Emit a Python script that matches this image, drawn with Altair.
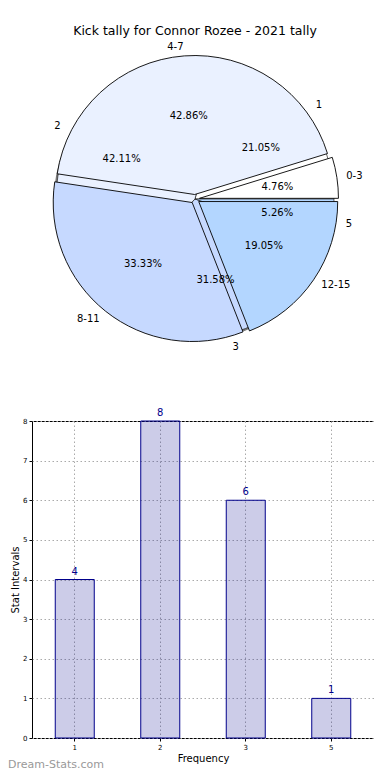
import math
import altair as alt
import pandas as pd

# ---------------- data ----------------
title_text = "Kick tally for Connor Rozee - 2021 tally"
intervals = ["0-3", "4-7", "8-11", "12-15"]
interval_counts = [1, 9, 7, 4]
freq_labels = ["1", "2", "3", "5"]
freq_counts = [4, 8, 6, 1]
pie_colors = ["#ffffff", "#eaf1ff", "#c6d9ff", "#b3d6ff"]
y_ticks = [0, 1, 2, 3, 4, 5, 6, 7, 8]
watermark = "Dream-Stats.com"

FONT = "DejaVu Sans"
BW, BH = 342, 317          # bar plot area
PCX, PCY = 163, -222       # pie centre relative to the bar plot origin
TY = -390                  # title position relative to the bar plot origin
R = 139
EXPLODE = 4.5


def pie_frame(labels, counts):
    total = sum(counts)
    rows = []
    cum = 0
    n = len(labels)
    for i, (lab, c) in enumerate(zip(labels, counts)):
        mid = (cum + c / 2) / total * 2 * math.pi  # matplotlib: ccw from 3 o'clock
        cum += c
        right = math.cos(mid) > 0
        rows.append({
            "label": lab,
            "value": c,
            "pct": f"{c / total * 100:.2f}%",
            "color": pie_colors[i],
            "ord": n - 1 - i,  # vega runs clockwise
            "lab_r": lab if right else "",
            "lab_l": "" if right else lab,
            "dx": EXPLODE * math.cos(mid),
            "dy": -EXPLODE * math.sin(mid),
        })
    return pd.DataFrame(rows)


p1 = pie_frame(intervals, interval_counts)
p2 = pie_frame(freq_labels, freq_counts)
tot1, tot2 = sum(interval_counts), sum(freq_counts)


def tscale(total):
    return alt.Scale(domain=[0, total], range=[math.pi / 2, math.pi / 2 + 2 * math.pi])


def stacked(df):
    return (alt.Chart(df)
            .transform_stack(stack="value", groupby=[], as_=["v0", "v1"],
                             sort=[alt.SortField("ord", order="ascending")])
            .transform_calculate(vm="(datum.v0 + datum.v1) / 2"))


layers = []

# shadow
layers.append(alt.Chart(pd.DataFrame({"v": [0]})).mark_arc(
    radius=R, theta=0, theta2=2 * math.pi, color="#555555", opacity=0.8
).encode(x=alt.value(PCX - 2.5), y=alt.value(PCY + 3)))

# second pie underneath
layers.append(stacked(p2).mark_arc(radius=R, stroke="#222222", strokeWidth=0.7).encode(
    theta=alt.Theta("v0:Q", scale=tscale(tot2)), theta2="v1:Q",
    color=alt.Color("color:N", scale=None), x=alt.value(PCX), y=alt.value(PCY)))

# first pie, exploded wedges
for _, row in p1.iterrows():
    layers.append(stacked(p1).transform_filter(alt.datum.label == row["label"]).mark_arc(
        radius=R, stroke="black", strokeWidth=0.9
    ).encode(
        theta=alt.Theta("v0:Q", scale=tscale(tot1)), theta2="v1:Q",
        color=alt.Color("color:N", scale=None),
        x=alt.value(PCX + row["dx"]), y=alt.value(PCY + row["dy"])))


def pie_text(df, total, field, radius, align):
    return stacked(df).mark_text(radius=radius, font=FONT, fontSize=10, color="black",
                                 align=align, baseline="middle").encode(
        theta=alt.Theta("vm:Q", stack=False, scale=tscale(total)),
        text=f"{field}:N", x=alt.value(PCX), y=alt.value(PCY))


for df, tot in ((p1, tot1), (p2, tot2)):
    layers.append(pie_text(df, tot, "pct", R * 0.6, "center"))
    layers.append(pie_text(df, tot, "lab_r", R * 1.1, "left"))
    layers.append(pie_text(df, tot, "lab_l", R * 1.1, "right"))

layers.append(alt.Chart(pd.DataFrame({"t": [title_text]})).mark_text(
    font=FONT, fontSize=12.5, color="black", baseline="middle"
).encode(text="t:N", x=alt.value(PCX), y=alt.value(TY)))

# ---------------- bar chart ----------------
bar_df = pd.DataFrame({"freq": freq_labels, "count": freq_counts})

grid_style = dict(grid=True, gridDash=[1.5, 2.5], gridColor="#aaaaaa", gridWidth=1)
bx = alt.X("freq:N", sort=freq_labels,
           scale=alt.Scale(paddingInner=0, paddingOuter=0),
           axis=alt.Axis(title="Frequency", labelAngle=0, labelFontSize=7, labelFont=FONT,
                         titleFont=FONT, titleFontSize=10, titleFontWeight="normal",
                         titleColor="black", labelColor="black", titlePadding=3,
                         domain=False, tickSize=3, tickColor="black", **grid_style))
by = alt.Y("count:Q", scale=alt.Scale(domain=[0, 8], nice=False),
           axis=alt.Axis(title="Stat Intervals", values=y_ticks, labelFontSize=7, labelFont=FONT,
                         titleFont=FONT, titleFontSize=10, titleFontWeight="normal",
                         titleColor="black", labelColor="black", titlePadding=2,
                         domain=False, tickSize=3, tickColor="black", **grid_style))

bars = alt.Chart(bar_df).mark_bar(size=39, fill="darkblue", fillOpacity=0.2,
                                  stroke="darkblue", strokeWidth=1).encode(x=bx, y=by)
bar_labels = alt.Chart(bar_df).mark_text(dy=-8, color="darkblue", font=FONT, fontSize=10).encode(
    x=bx, y=by, text="count:Q")
wm = alt.Chart(pd.DataFrame({"t": [watermark]})).mark_text(
    font=FONT, fontSize=11, color="#999999", align="left", baseline="middle"
).encode(text="t:N", x=alt.value(-24), y=alt.value(BH + 27))

chart = alt.layer(bars, bar_labels, wm, *layers).resolve_scale(theta="independent").properties(
    width=BW, height=BH,
    padding={"left": 0, "top": 17, "right": 0, "bottom": 0},
).configure_view(stroke="black", strokeWidth=1)

chart.save("out.html", embed_options={"renderer": "svg", "actions": False})
